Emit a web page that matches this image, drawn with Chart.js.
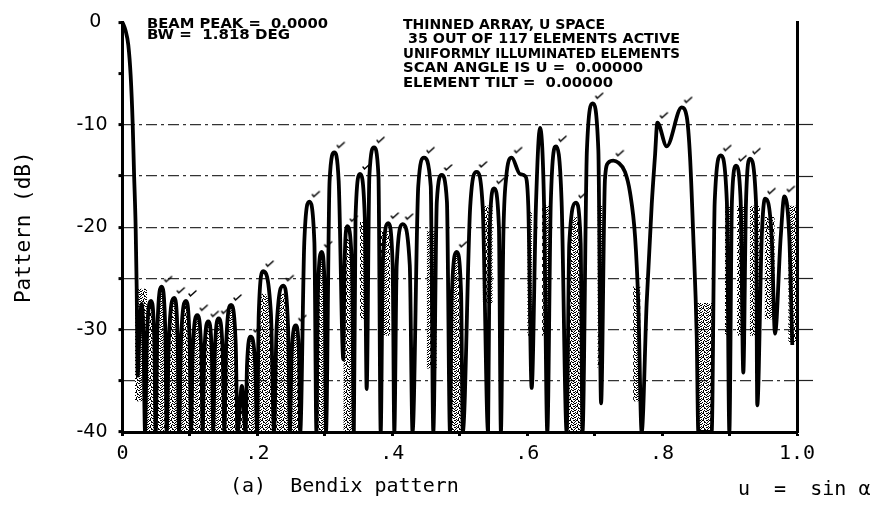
<!DOCTYPE html>
<html>
<head>
<meta charset="utf-8">
<script src="https://cdn.jsdelivr.net/npm/chart.js@4.4.1/dist/chart.umd.min.js"></script>
<style>
  html, body { margin: 0; padding: 0; background: #fff; }
  canvas { display: block; }
</style>
</head>
<body>
<canvas id="chart" width="883" height="506"></canvas>
<script>
// traced pattern, u = sin(alpha) against dB (side, peak, side, null for each lobe)
const patternU = [
  0, 0.0045, 0.0086, 0.0121, 0.0151, 0.0171, 0.0195, 0.021, 0.0225,
  0.025, 0.0284, 0.031, 0.0334,
  0.0361, 0.0423, 0.0471, 0.0492,
  0.0517, 0.058, 0.0634, 0.0655,
  0.0687, 0.0768, 0.0818, 0.0838,
  0.0867, 0.0941, 0.0995, 0.1016,
  0.1042, 0.1109, 0.1167, 0.1189,
  0.1212, 0.1272, 0.1325, 0.1346,
  0.1368, 0.1426, 0.1486, 0.151,
  0.1538, 0.1609, 0.1678, 0.1705,
  0.177, 0.1825,
  0.1846, 0.190, 0.1968, 0.1995,
  0.202, 0.2085, 0.2201, 0.2246,
  0.2285, 0.2384, 0.2455, 0.2483,
  0.2507, 0.257, 0.2617, 0.2635,
  0.2695, 0.277, 0.2845, 0.2875,
  0.2897, 0.2953, 0.2999, 0.3017,
  0.307, 0.314, 0.3205, 0.3274,
  0.3291, 0.3333, 0.3403, 0.343,
  0.3455, 0.3521, 0.3592, 0.362,
  0.366, 0.3729, 0.3795, 0.3828,
  0.3859, 0.394, 0.4005, 0.403,
  0.4065, 0.4154, 0.4259, 0.430,
  0.4385, 0.447, 0.457, 0.4608,
  0.466, 0.4732, 0.481, 0.4855,
  0.4883, 0.4955, 0.502, 0.5045,
  0.5155, 0.525, 0.534, 0.542,
  0.5445, 0.5508, 0.5581, 0.561,
  0.5646, 0.5686, 0.577, 0.5893, 0.5968, 0.6016, 0.6066,
  0.613, 0.619, 0.625, 0.6298,
  0.635, 0.6427, 0.651, 0.6585,
  0.6624, 0.6724, 0.6793, 0.682,
  0.6885, 0.6971, 0.7055, 0.7095,
  0.7153, 0.7202, 0.7277, 0.735, 0.745, 0.7524, 0.76, 0.7647, 0.7697,
  0.7771, 0.7846, 0.7895, 0.793, 0.8068, 0.829, 0.8365, 0.8414, 0.8463, 0.8513, 0.8537,
  0.8735, 0.878, 0.887, 0.896, 0.8997,
  0.9035, 0.9096, 0.9165, 0.9204,
  0.9244, 0.9303, 0.9392, 0.9411,
  0.9477, 0.9526, 0.9625, 0.9674,
  0.9758, 0.9812, 0.9886, 0.993
];
const patternDb = [
  0, -0.8, -2.2, -5.2, -9.9, -14.7, -20, -25.8, -34.5,
  -30.5, -27.5, -30.5, -40,
  -31, -27.2, -31, -40,
  -30, -25.8, -30, -40,
  -31, -26.9, -31, -40,
  -31.2, -27.2, -31.2, -40,
  -32, -28.6, -32, -40,
  -32.5, -29.2, -32.5, -40,
  -32.3, -28.9, -32.3, -40,
  -31.3, -27.6, -31.3, -40,
  -35.5, -40,
  -33.5, -30.7, -33.5, -40,
  -28.5, -24.3, -28.5, -40,
  -29.8, -25.7, -29.8, -40,
  -32.5, -29.6, -32.5, -40,
  -21.5, -17.5, -21.5, -40,
  -26.5, -22.4, -26.5, -40,
  -15.5, -12.7, -15.5, -32.9,
  -24, -19.9, -24, -40,
  -19, -14.8, -19, -35.8,
  -15, -12.2, -15, -40,
  -23.6, -19.6, -23.6, -40,
  -23.7, -19.7, -23.7, -40,
  -16, -13.2, -16, -40,
  -17.5, -14.9, -17.5, -40,
  -26.5, -22.4, -26.5, -40,
  -18, -14.6, -18, -40,
  -20, -16.2, -20, -40,
  -21, -15.3, -13.2, -14.8, -15, -17.9, -35.7,
  -17.8, -10.3, -17.8, -40,
  -17.5, -12.1, -17.5, -40,
  -21.6, -17.6, -21.6, -40,
  -12.5, -7.9, -12.5, -37.2,
  -15.3, -13.7, -13.5, -13.7, -14.6, -16.6, -21, -27.4, -40,
  -27.4, -17.8, -13, -9.8, -12.1, -8.3, -9.2, -13.1, -21, -30.6, -40,
  -40, -17.5, -13.0, -17.5, -40,
  -17.5, -14.0, -17.5, -34.2,
  -17.5, -13.3, -17.5, -37.4,
  -21, -17.2, -21, -30.4,
  -21, -17.0, -21, -31.5
];

// sidelobe peaks that carry the plotter's small tick mark
const peakU = [
  0.058, 0.0768, 0.0941, 0.1109, 0.1272, 0.1426, 0.1609, 0.190, 0.2085, 0.2384, 0.257,
  0.277, 0.2953, 0.314, 0.3333, 0.3521, 0.3729, 0.394, 0.4154, 0.447, 0.4732, 0.4955,
  0.525, 0.5508, 0.577, 0.6427, 0.6724, 0.6971, 0.7277, 0.793, 0.829,
  0.887, 0.9096, 0.9303, 0.9526, 0.9812
];
const peakDb = [
  -25.8, -26.9, -27.2, -28.6, -29.2, -28.9, -27.6, -30.7, -24.3, -25.7, -29.6,
  -17.5, -22.4, -12.7, -19.9, -14.8, -12.2, -19.6, -19.7, -13.2, -14.9, -22.4,
  -14.6, -16.2, -13.2, -12.1, -17.6, -7.9, -13.5, -9.8, -8.3,
  -13.0, -14.0, -13.3, -17.2, -17.0
];

// over-plotted (speckled) areas inside lobes: u range and upper level
const shadeFrom = [0.033, 0.287, 0.327, 0.485, 0.658];
const shadeTo = [0.264, 0.302, 0.344, 0.505, 0.683];
const shadeTop = [-26.5, -21, -21, -22.5, -19];

// over-plotted columns between lobes
const smearFrom = [0.0185, 0.352, 0.382, 0.451, 0.534, 0.600, 0.622, 0.704, 0.757, 0.852,
  0.893, 0.911, 0.930, 0.952, 0.987];
const smearTo = [0.0363, 0.360, 0.397, 0.466, 0.549, 0.607, 0.634, 0.711, 0.768, 0.874,
  0.903, 0.923, 0.945, 0.967, 1.0];
const smearTop = [-26, -19.5, -20.4, -20.4, -17.9, -18.5, -17.9, -17.9, -25.8, -27.4,
  -17.9, -17.9, -17.9, -19, -17.9];
const smearBottom = [-37, -29, -30.6, -33.8, -27.4, -30.6, -30.6, -33.8, -37, -40,
  -30.6, -30.6, -30.6, -29, -31.2];

const xTickValues = [0, 0.2, 0.4, 0.6, 0.8, 1.0];
const xTickText = ['0', '.2', '.4', '.6', '.8', '1.0'];
const yTickValues = [0, -10, -20, -30, -40];
const yTickText = ['0 ', '-10', '-20', '-30', '-40'];
const gridValues = [-10, -15, -20, -25, -30, -35];

const noteLeft = ['BEAM PEAK =  0.0000', 'BW =  1.818 DEG'];
const noteRight = [
  'THINNED ARRAY, U SPACE',
  ' 35 OUT OF 117 ELEMENTS ACTIVE',
  'UNIFORMLY ILLUMINATED ELEMENTS',
  'SCAN ANGLE IS U =  0.00000',
  'ELEMENT TILT =  0.00000'
];
const caption = '(a)  Bendix pattern';
const axisNote = 'u  =  sin \u03b1';

const canvas = document.getElementById('chart');
const ctx = canvas.getContext('2d');

function specklePattern() {
  const c = document.createElement('canvas');
  c.width = 7; c.height = 7;
  const g = c.getContext('2d');
  g.fillStyle = '#000';
  const rows = ['X.XX..X', '.X..X..', 'X...XX.', '..X...X', 'XX..X..', '...X.XX', '.X.X...'];
  rows.forEach((row, r) => [...row].forEach((ch, k) => {
    if (ch === 'X') g.fillRect(k, r, 1, 1);
  }));
  return ctx.createPattern(c, 'repeat');
}

function tickMark() {
  const c = document.createElement('canvas');
  c.width = 30; c.height = 30;
  const g = c.getContext('2d');
  g.strokeStyle = '#000';
  g.lineWidth = 1.5;
  g.lineCap = 'round';
  g.beginPath();
  g.moveTo(18, 8);
  g.lineTo(19.5, 10);
  g.lineTo(25, 5);
  g.stroke();
  return c;
}

function pickLabel(values, texts, v) {
  const i = values.findIndex(t => Math.abs(t - v) < 1e-6);
  return i < 0 ? '' : texts[i];
}

// draws a string stretched to a given width (plotter lettering is wide)
function stretch(c, str, x, y, width) {
  const w = c.measureText(str).width;
  c.save();
  c.translate(x, y);
  c.scale(width / w, 1);
  c.fillText(str, 0, 0);
  c.restore();
}

const notes = {
  id: 'notes',
  afterDraw(chart) {
    const c = chart.ctx;
    c.save();
    c.fillStyle = '#000';
    c.textBaseline = 'alphabetic';
    c.font = 'bold 14px "DejaVu Sans"';
    stretch(c, noteLeft[0], 147, 28, 181);
    stretch(c, noteLeft[1], 147, 39, 143);
    const rightBase = [28.5, 43, 57.5, 72, 87];
    const rightWidth = [202, 277, 277, 240, 210];
    noteRight.forEach((s, i) => stretch(c, s, 403, rightBase[i], rightWidth[i]));
    c.font = '20px "DejaVu Sans Mono"';
    c.textBaseline = 'middle';
    c.fillText(caption, 230, 487);
    c.fillText(axisNote, 738, 490);
    c.restore();
  }
};

const speckle = specklePattern();

// speckle filling the inside of lobes, capped at the shade level
const shadeSets = shadeFrom.map((u0, k) => ({
  data: patternU
    .map((u, i) => ({ x: u, y: Math.min(patternDb[i], shadeTop[k]) }))
    .filter(p => p.x >= u0 && p.x <= shadeTo[k]),
  borderWidth: 0,
  pointRadius: 0,
  cubicInterpolationMode: 'monotone',
  backgroundColor: speckle,
  fill: { value: -40 },
  order: 2
}));

const smearSets = smearFrom.map((u0, i) => ({
  data: [{ x: u0, y: smearTop[i] }, { x: smearTo[i], y: smearTop[i] }],
  borderWidth: 0,
  pointRadius: 0,
  backgroundColor: speckle,
  fill: { value: smearBottom[i] },
  order: 2
}));

new Chart(ctx, {
  type: 'line',
  data: {
    datasets: [
      {
        data: patternU.map((u, i) => ({ x: u, y: patternDb[i] })),
        borderColor: '#000',
        borderWidth: 3.8,
        pointRadius: 0,
        fill: false,
        cubicInterpolationMode: 'monotone',
        clip: { left: 2, top: 6, right: 2, bottom: 0 },
        order: 0
      },
      {
        data: peakU.map((u, i) => ({ x: u, y: peakDb[i] })),
        showLine: false,
        pointRadius: 3,
        pointStyle: tickMark(),
        order: 1
      },
      ...shadeSets,
      ...smearSets
    ]
  },
  options: {
    responsive: false,
    animation: false,
    layout: { padding: { left: 0, right: 0, top: 13.5, bottom: 0 } },
    plugins: { legend: { display: false }, tooltip: { enabled: false } },
    scales: {
      x: {
        type: 'linear', min: 0, max: 1,
        afterFit: s => { s.height = 74; },
        border: { color: '#000', width: 3 },
        grid: { drawOnChartArea: false, tickLength: 4, tickWidth: 3, tickColor: '#000' },
        ticks: {
          stepSize: 0.1, autoSkip: false, maxRotation: 0, padding: 6, color: '#000',
          font: { family: 'DejaVu Sans Mono', size: 20 },
          callback: v => pickLabel(xTickValues, xTickText, v)
        }
      },
      y: {
        type: 'linear', min: -40, max: 0,
        afterFit: s => { s.width = 122.5; },
        border: { color: '#000', width: 3, dash: [11, 4, 3, 4] },
        grid: {
          color: c => gridValues.includes(c.tick.value) ? '#333' : 'rgba(0,0,0,0)',
          lineWidth: 1.2, tickLength: 4, tickWidth: 3, tickColor: '#000'
        },
        ticks: {
          stepSize: 5, autoSkip: false, padding: 11, color: '#000',
          font: { family: 'DejaVu Sans', size: 19 },
          callback: v => pickLabel(yTickValues, yTickText, v)
        },
        title: {
          display: true, text: 'Pattern (dB)', color: '#000',
          font: { family: 'DejaVu Sans Mono', size: 21 },
          padding: { top: 12, bottom: 0 }
        }
      },
      y2: {
        type: 'linear', position: 'right', min: -40, max: 0,
        afterFit: s => { s.width = 86; },
        border: { color: '#000', width: 3 },
        grid: {
          drawOnChartArea: false, tickLength: 16, tickWidth: 1.2,
          tickColor: c => gridValues.includes(c.tick.value) ? '#222' : 'rgba(0,0,0,0)'
        },
        ticks: { stepSize: 5, autoSkip: false, padding: 0, callback: () => '' }
      }
    }
  },
  plugins: [notes]
});
</script>
</body>
</html>
